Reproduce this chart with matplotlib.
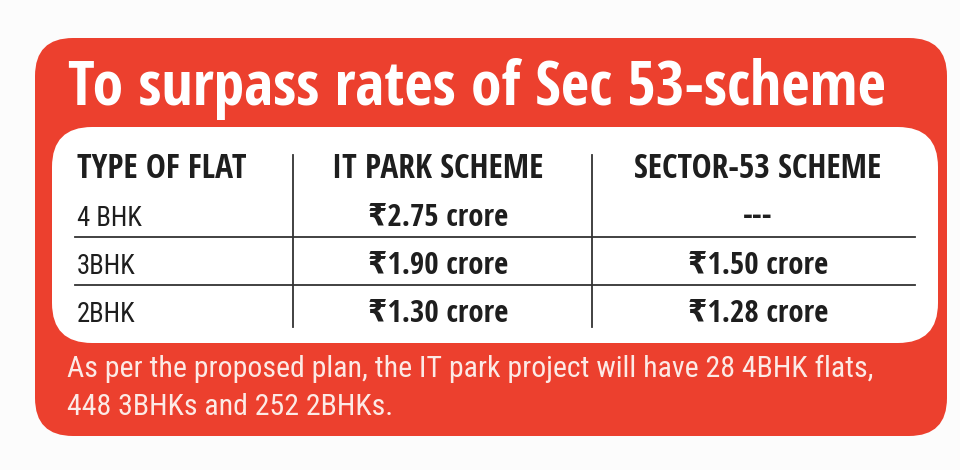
import matplotlib
matplotlib.use('Agg')
import matplotlib.pyplot as plt
from matplotlib import font_manager
from matplotlib.font_manager import FontProperties
from matplotlib.patches import FancyBboxPatch

# table data
headers = ['TYPE OF FLAT', 'IT PARK SCHEME', 'SECTOR-53 SCHEME']
flat_types = ['4 BHK', '3BHK', '2BHK']
it_park_crore = [2.75, 1.90, 1.30]
sector53_crore = [None, 1.50, 1.28]

title = 'To surpass rates of Sec 53-scheme'
note_lines = ['As per the proposed plan, the IT park project will have 28 4BHK flats,',
              '448 3BHKs and 252 2BHKs.']

RED = '#EC402E'
INK = '#1E1E1E'

# the original uses a condensed sans; take one if the machine has it
prefer = ['Liberation Sans Narrow', 'Noto Sans Condensed', 'Noto Sans',
          'Open Sans Condensed', 'Open Sans', 'Roboto Condensed']
stretch_rank = {'condensed': 0, 'semi-condensed': 1, 'extra-condensed': 2}


def as_weight(w):
    return font_manager.weight_dict.get(w, 400) if isinstance(w, str) else w


def pick_narrow(target_weight):
    found = [f for f in font_manager.fontManager.ttflist
             if f.style == 'normal' and ('condensed' in f.stretch or
                                         'Narrow' in f.name or
                                         'Condensed' in f.name)]
    found.sort(key=lambda f: (abs(as_weight(f.weight) - target_weight) > 50,
                              prefer.index(f.name) if f.name in prefer else 99,
                              stretch_rank.get(f.stretch, 3),
                              abs(as_weight(f.weight) - target_weight)))
    return found[0] if found else None


bold_font = pick_narrow(700)
reg_font = pick_narrow(400)
if bold_font is not None:
    BOLD = dict(family=[bold_font.name, 'DejaVu Sans'], fontweight='bold',
                fontstretch=bold_font.stretch if bold_font.stretch != 'normal'
                else 'condensed')
else:
    BOLD = dict(family=['Liberation Sans', 'DejaVu Sans'], fontweight='bold')
if reg_font is not None:
    REG = dict(fontproperties=FontProperties(fname=reg_font.fname))
else:
    REG = dict(family=['Liberation Sans', 'DejaVu Sans'])

fig = plt.figure(figsize=(9.6, 4.7), dpi=100)
fig.patch.set_facecolor('#FCFCFC')
ax = fig.add_axes([0, 0, 1, 1])
ax.set_xlim(0, 960)
ax.set_ylim(470, 0)
ax.axis('off')


def fit_size(sample, width, style, cap=None):
    """font size between the one that fits the width and the one that fits the cap height"""
    t = ax.text(0, 0, sample, **style)
    t.set_fontsize(20)
    w = t.get_window_extent(fig.canvas.get_renderer()).width
    t.remove()
    size = 20 * width / w
    if cap is not None:
        # cap height ~0.72 em and 1 pt = 100/72 px, so cap px ~ size in pt
        size = min(size, (size * cap) ** 0.5)
    return size


def put(x, y, s, size, style, color=INK, ha='left'):
    t = ax.text(x, y, s, color=color, ha=ha, va='baseline', **style)
    t.set_fontsize(size)


def fmt(v):
    return '---' if v is None else '\u20b9%.2f crore' % v


# red card and white panel
ax.add_patch(FancyBboxPatch((35 + 38, 38 + 38), 912 - 76, 398 - 76,
                            boxstyle='round,pad=38', fc=RED, ec='none'))
ax.add_patch(FancyBboxPatch((52 + 40, 127 + 40), 886 - 80, 216 - 80,
                            boxstyle='round,pad=40', fc='white', ec='none'))

put(68, 105, title, fit_size(title, 820, BOLD), BOLD, 'white')

# grid lines
for x in [293, 592]:
    ax.plot([x, x], [155, 327], color='#333333', lw=1.3)
for y in [237, 285]:
    ax.plot([75, 915], [y, y], color='#333333', lw=1.3)

head_size = fit_size(headers[1], 243, BOLD, cap=21)
val_size = fit_size(fmt(it_park_crore[0]), 156, BOLD, cap=20)
row_size = fit_size(flat_types[0], 66, REG, cap=19)

col_x = [77, 438, 758]
col_ha = ['left', 'center', 'center']
for h, x, ha in zip(headers, col_x, col_ha):
    put(x, 178, h, head_size, BOLD, ha=ha)

row_base = [226, 274, 322]
for name, a, b, yb in zip(flat_types, it_park_crore, sector53_crore, row_base):
    put(col_x[0], yb, name, row_size, REG)
    put(col_x[1], yb, fmt(a), val_size, BOLD, ha='center')
    put(col_x[2], yb - (2 if b is None else 0), fmt(b), val_size, BOLD,
        ha='center')

note_size = fit_size(note_lines[0], 803, REG, cap=23)
for line, yb in zip(note_lines, [377, 415]):
    put(67, yb, line, note_size, REG, color='#FCEAE6')

fig.savefig('out.png', dpi=100, facecolor=fig.get_facecolor())
